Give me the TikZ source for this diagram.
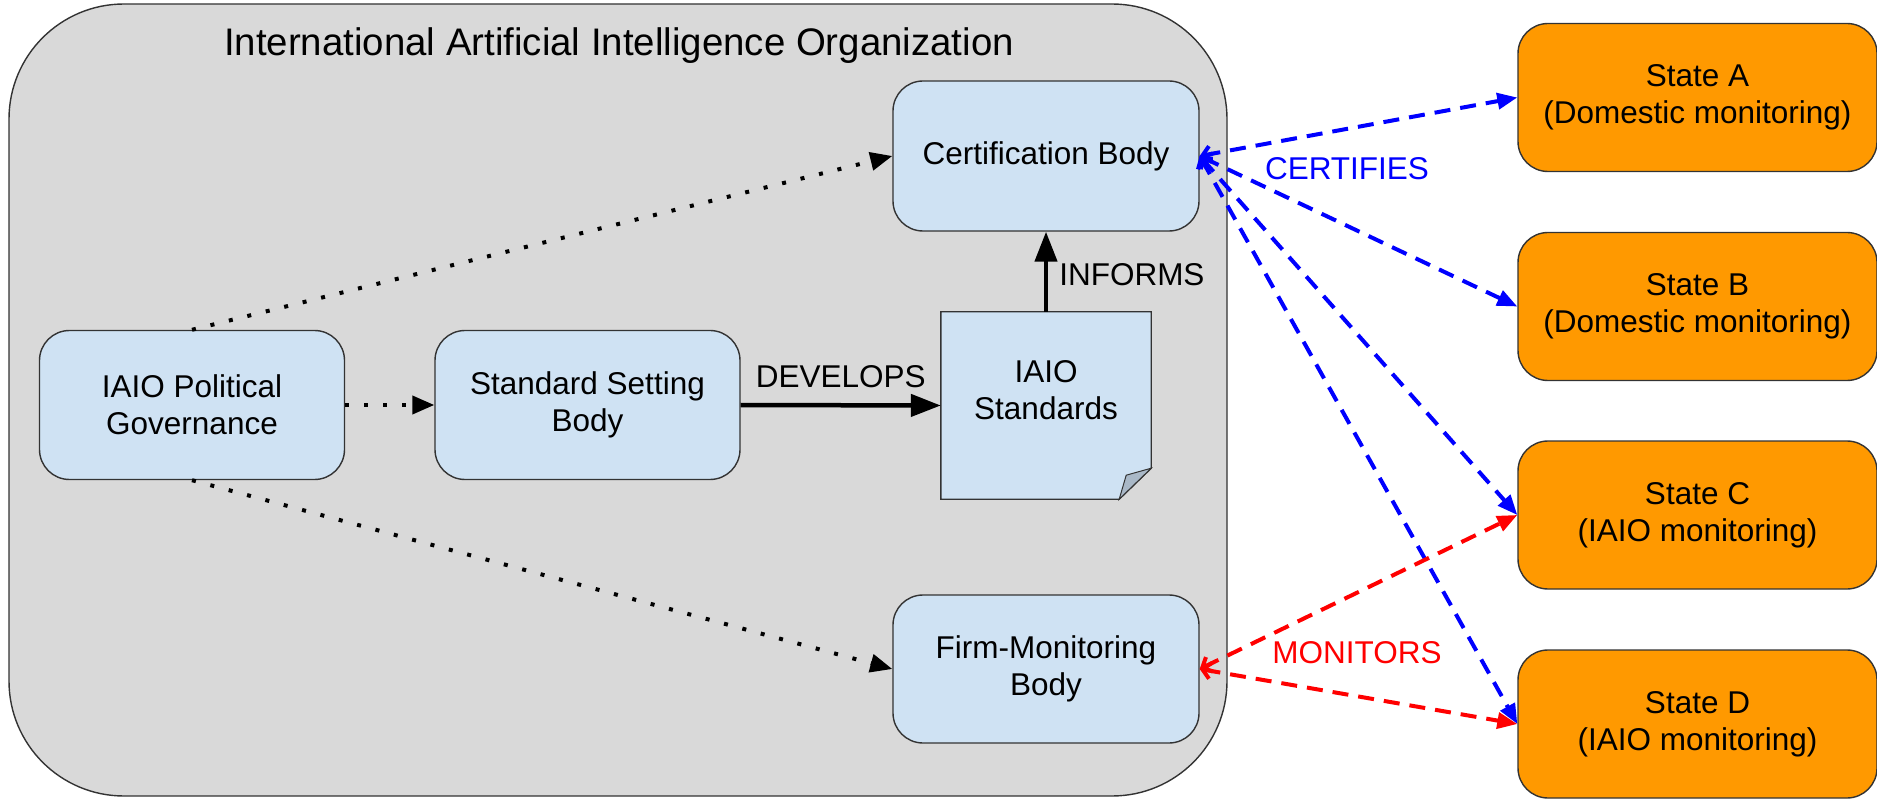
\documentclass[tikz,border=0pt]{standalone}
\usepackage{fontspec}
\setmainfont{Liberation Sans}
\usetikzlibrary{arrows.meta}

\definecolor{orgfill}{HTML}{D9D9D9}
\definecolor{boxfill}{HTML}{CFE2F3}
\definecolor{statefill}{HTML}{FF9900}
\definecolor{edgecol}{HTML}{333333}
\definecolor{foldfill}{HTML}{A9B8C7}
\definecolor{certblue}{HTML}{0000FF}
\definecolor{monred}{HTML}{FF0000}

\newcommand\diagfont{\fontsize{31.5}{37}\selectfont}
\newcommand\titlefont{\fontsize{38.4}{44}\selectfont}

\tikzset{
  unit/.style={draw=edgecol, line width=1.4pt, fill=boxfill, rounded corners=30pt,
    minimum width=305pt, minimum height=149pt, align=center, inner sep=0pt, font=\diagfont},
  state/.style={unit, fill=statefill, minimum width=359pt, minimum height=148pt},
  lbl/.style={inner sep=0pt, font=\diagfont},
  dotarrow/.style={line width=4pt, dash pattern=on 4pt off 15pt,
    -{Triangle[length=22pt,width=18pt]}},
  solidarrow/.style={line width=4.5pt, -{Triangle[length=30pt,width=22pt]}},
  certlink/.style={certblue, line width=4pt, dash pattern=on 16pt off 10pt,
    {Straight Barb[length=8pt,width=16pt]}-{Triangle[length=20pt,width=16pt]}},
  monlink/.style={certlink, monred},
}

\begin{document}
\begin{tikzpicture}[x=1pt,y=-1pt]
\useasboundingbox (0,0) rectangle (1877,799);

% organisation container
\node[draw=edgecol, line width=1.4pt, fill=orgfill, rounded corners=115pt,
  minimum width=1218pt, minimum height=792pt, inner sep=0pt] (org) at (618,400) {};
\node[inner sep=0pt, font=\titlefont] (orgtitle) at (619,46) {International Artificial Intelligence Organization};

% bodies inside the organisation
\node[unit] (pol)  at (192,405)    {IAIO Political\\Governance};
\node[unit] (ssb)  at (587.5,405)  {Standard Setting\\Body};
\node[unit, minimum width=306pt, minimum height=150pt] (cert) at (1046,156) {Certification Body};
\node[unit, minimum width=306pt, minimum height=148pt] (firm) at (1046,669) {Firm-Monitoring\\Body};

% standards document with folded corner
\node[minimum width=210pt, minimum height=187pt, inner sep=0pt] (std) at (1046,405.5) {};
\draw[draw=edgecol, line width=1.4pt, fill=boxfill]
  (std.north west) -- (std.north east) -- ([yshift=31pt]std.south east)
  -- ([xshift=-32pt]std.south east) -- (std.south west) -- cycle;
\draw[draw=edgecol, line width=1pt, fill=foldfill]
  ([yshift=31pt]std.south east) -- ([xshift=-25pt,yshift=24pt]std.south east)
  -- ([xshift=-32pt]std.south east) -- cycle;
\node[lbl, align=center] (stdtext) at ([yshift=15pt]std.center) {IAIO\\Standards};

% member states
\node[state] (stA) at (1697.5,97.5) {State A\\(Domestic monitoring)};
\node[state] (stB) at (1697.5,306.5) {State B\\(Domestic monitoring)};
\node[state] (stC) at (1697.5,515) {State C\\(IAIO monitoring)};
\node[state] (stD) at (1697.5,724) {State D\\(IAIO monitoring)};

% internal relations
\draw[dotarrow] (pol.north) -- (cert.west);
\draw[dotarrow] (pol.east) -- (ssb.west);
\draw[dotarrow] (pol.south) -- (firm.west);
\draw[solidarrow] (ssb.east) -- node[lbl, above=15pt] (develops) {DEVELOPS} (std.west);
\draw[solidarrow] (std.north) -- node[lbl, anchor=west, xshift=11pt, yshift=-3pt] (informs) {INFORMS} (cert.south);

% certification links
\draw[certlink] (cert.east) -- (stA.west);
\draw[certlink] (cert.east) -- (stB.west);
\draw[certlink] (cert.east) -- (stC.west);
\draw[certlink] (cert.east) -- (stD.west);
\node[lbl, text=certblue] (certifies) at (1347,169) {CERTIFIES};

% monitoring links
\draw[monlink] (firm.east) -- (stC.west);
\draw[monlink] (firm.east) -- (stD.west);
\node[lbl, text=monred] (monitors) at (1357,653) {MONITORS};
\end{tikzpicture}
\end{document}
